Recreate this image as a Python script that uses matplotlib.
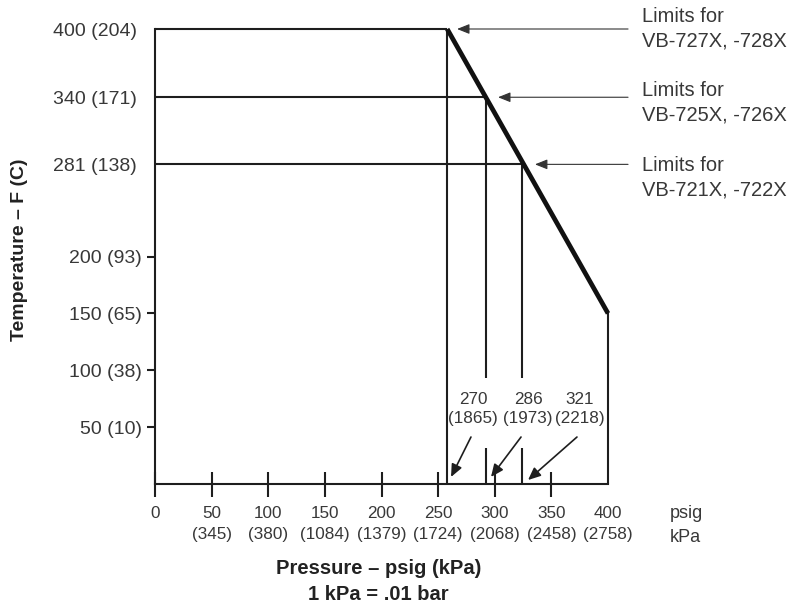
import matplotlib
matplotlib.use("Agg")
import matplotlib.pyplot as plt

# ---------------- data ----------------
x_ticks = [0, 50, 100, 150, 200, 250, 300, 350, 400]
x_kpa = ["", "(345)", "(380)", "(1084)", "(1379)", "(1724)", "(2068)", "(2458)", "(2758)"]

y_ticks = [400, 340, 281, 200, 150, 100, 50]
y_labels = ["400 (204)", "340 (171)", "281 (138)", "200 (93)", "150 (65)", "100 (38)", "50 (10)"]

limit_temps = [400, 340, 281]          # F
limit_press = [258, 292, 324]          # psig (as drawn)
limit_names = ["Limits for\nVB-727X, -728X",
               "Limits for\nVB-725X, -726X",
               "Limits for\nVB-721X, -722X"]

curve_press = [258, 400]
curve_temp = [400, 150]

press_labels = ["270\n(1865)", "286\n(1973)", "321\n(2218)"]

# ---------------- style ----------------
REG = "Liberation Sans"
TXT = "#383838"
LN = "#1e1e1e"
small = 12.3

fig = plt.figure(figsize=(8.11, 6.06), dpi=100)
W, H = 811, 606
ax = fig.add_axes([155 / W, (H - 484) / H, (608 - 155) / W, (484 - 29) / H])
ax.set_xlim(0, 400)
ax.set_ylim(0, 400)
for s in ["top", "right"]:
    ax.spines[s].set_visible(False)
for s in ["left", "bottom"]:
    ax.spines[s].set_linewidth(1.5)
    ax.spines[s].set_color(LN)

# x ticks
ax.set_xticks(x_ticks)
ax.set_xticklabels([f"{v}\n{k}" if k else f"{v}" for v, k in zip(x_ticks, x_kpa)],
                   family=REG, fontsize=small, color=TXT, linespacing=1.5,
                   va="top")
ax.tick_params(axis="x", direction="inout", length=18, width=1.5, color=LN, pad=6.5)
xt = ax.xaxis.get_major_ticks()
xt[-1].tick1line.set_visible(False)

# y ticks
ax.set_yticks(y_ticks)
ax.set_yticklabels(y_labels, family=REG, fontsize=14, color=TXT)
ax.tick_params(axis="y", which="major", direction="out", length=5.8, width=1.5,
               color=LN, pad=3.6)
yt = ax.yaxis.get_major_ticks()
for t in yt[:3]:
    t.tick1line.set_visible(False)
    t.set_pad(7.2)
ax.set_yticks(y_ticks[3:], minor=True)
ax.tick_params(axis="y", which="minor", direction="in", length=10.8, width=1.5, color=LN)

# limit lines
gap = (32, 93)
for i, (p, t) in enumerate(zip(limit_press, limit_temps)):
    ax.plot([0, p], [t, t], color=LN, lw=1.5, solid_capstyle="butt", clip_on=False)
    if i == 0:
        ax.plot([p, p], [0, t], color=LN, lw=1.5, solid_capstyle="butt", clip_on=False)
    else:
        ax.plot([p, p], [0, gap[0]], color=LN, lw=1.5, solid_capstyle="butt", clip_on=False)
        ax.plot([p, p], [gap[1], t], color=LN, lw=1.5, solid_capstyle="butt", clip_on=False)

# right vertical at end of curve
ax.plot([curve_press[-1], curve_press[-1]], [0, curve_temp[-1]], color=LN, lw=1.5,
        solid_capstyle="butt", clip_on=False)
# thick limit curve
ax.plot(curve_press, curve_temp, color="#111111", lw=3.4, solid_capstyle="butt",
        clip_on=False, zorder=5)

# pressure value labels with arrows
lab_x = [281, 329.4, 375]
lab_y = 66
tails = [(279, 41.3), (323.2, 41.3), (372.6, 41.3)]
heads = [(261.4, 6.2), (296.7, 6.2), (329.4, 3.5)]
for s, lx, tl, hd in zip(press_labels, lab_x, tails, heads):
    ax.text(lx, lab_y, s, ha="center", va="center", family=REG, fontsize=small,
            color=TXT, linespacing=1.4)
    ax.annotate("", xy=hd, xytext=tl,
                arrowprops=dict(arrowstyle="-|>,head_length=0.5,head_width=0.22",
                                mutation_scale=15, lw=1.2, color=LN,
                                shrinkA=0, shrinkB=0))

# right-side labels with arrows
tip_x = [266.7, 302.9, 335.5]
tail_x = 417.7
text_x = 430
text_y = [400, 335.4, 269.5]
for nm, t, tx, ty in zip(limit_names, limit_temps, tip_x, text_y):
    ax.annotate("", xy=(tx, t), xytext=(tail_x, t), annotation_clip=False,
                arrowprops=dict(arrowstyle="-|>,head_length=0.5,head_width=0.2",
                                mutation_scale=15, lw=0.8, color="#333333",
                                shrinkA=0, shrinkB=0))
    ax.text(text_x, ty, nm, ha="left", va="center", family=REG, fontsize=14.5,
            color=TXT, linespacing=1.35, clip_on=False)

# units at right of x axis
fig.text(670 / W, 1 - 513 / H, "psig", ha="left", va="center", family=REG,
         fontsize=13, color=TXT)
fig.text(670 / W, 1 - 538 / H, "kPa", ha="left", va="center", family=REG,
         fontsize=13, color=TXT)

# axis titles
fig.text(20 / W, 1 - 250 / H, "Temperature – F (C)", rotation=90, ha="center",
         va="center", family=REG, fontsize=14, fontweight="bold", color="#222222")
fig.text(379 / W, 1 - 568 / H, "Pressure – psig (kPa)", ha="center", va="center",
         family=REG, fontsize=14.5, fontweight="bold", color="#222222")
fig.text(378 / W, 1 - 595 / H, "1 kPa = .01 bar", ha="center", va="center",
         family=REG, fontsize=14.5, fontweight="bold", color="#222222")

fig.savefig("out.png", dpi=100)
